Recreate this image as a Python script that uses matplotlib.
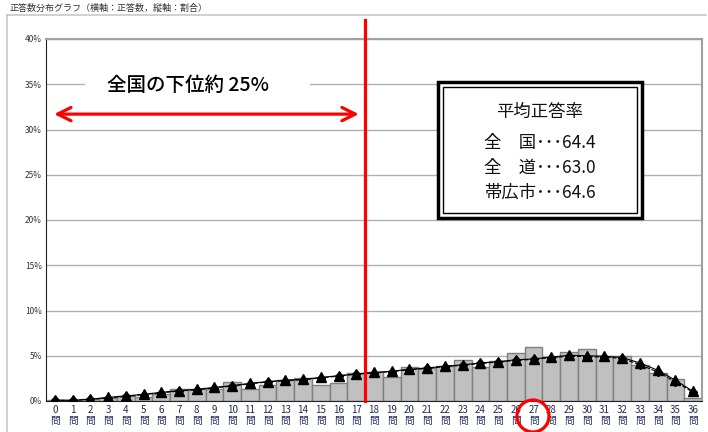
import matplotlib.pyplot as plt
from matplotlib.patches import Ellipse, Rectangle
from matplotlib.lines import Line2D

plt.rcParams['font.family'] = ['Noto Sans CJK JP', 'DejaVu Sans']

# 正答数 0〜36問
questions = list(range(37))
x_labels = [f'{q}\n問' for q in questions]

# 帯広市（棒）
obihiro = [0.1, 0.07, 0.2, 0.35, 0.5, 0.4, 0.75, 1.3, 1.3, 1.3,
           2.05, 1.3, 1.75, 2.3, 2.5, 1.75, 1.95, 3.05, 3.15, 2.6,
           3.8, 3.7, 3.85, 4.5, 3.8, 4.45, 5.25, 6.0, 4.9, 5.4,
           5.75, 5.0, 5.0, 3.95, 3.05, 2.4, 0.35]

# 全国（▲）
zenkoku = [0.1, 0.07, 0.2, 0.4, 0.55, 0.75, 0.95, 1.15, 1.3, 1.5,
           1.7, 1.95, 2.15, 2.3, 2.4, 2.6, 2.8, 3.0, 3.15, 3.3,
           3.5, 3.65, 3.85, 4.0, 4.2, 4.35, 4.55, 4.65, 4.85, 5.05,
           5.0, 4.95, 4.8, 4.2, 3.4, 2.3, 1.05]

# 全道（◆, 破線）
zendo = [0.08, 0.06, 0.18, 0.35, 0.5, 0.7, 0.9, 1.1, 1.25, 1.45,
         1.65, 1.9, 2.1, 2.25, 2.35, 2.55, 2.75, 2.95, 3.1, 3.25,
         3.45, 3.6, 3.8, 3.95, 4.15, 4.3, 4.5, 4.6, 4.8, 4.95,
         4.9, 4.85, 4.7, 4.0, 3.2, 2.15, 0.95]

fig = plt.figure(figsize=(7.08, 4.32), dpi=100)
ax = fig.add_axes([46 / 708, 1 - 401 / 432, 656 / 708, 362 / 432])

ax.bar(questions, obihiro, width=1.0, color='#c0c0c0', edgecolor='#7f7f7f',
       linewidth=1, zorder=2)
ax.plot(questions, zendo, color='black', linestyle='--', linewidth=0.8,
        marker='D', markersize=4.5, zorder=3)
ax.plot(questions, zenkoku, color='black', linewidth=0.8,
        marker='^', markersize=7.5, zorder=4)

ax.set_xlim(-0.5, 36.5)
ax.set_ylim(0, 40)
ax.set_yticks(range(0, 41, 5))
ax.set_yticklabels([f'{v}%' for v in range(0, 41, 5)], fontsize=6, color='#333333')
ax.set_xticks(questions)
ax.set_xticklabels(x_labels, fontsize=7, color='#1f2a5a', linespacing=1.05)
ax.tick_params(length=0, pad=3)
ax.grid(axis='y', color='#b0b0b0', linewidth=1, zorder=0)
ax.set_axisbelow(True)
for s in ['top', 'right']:
    ax.spines[s].set_color('#a0a0a0')
    ax.spines[s].set_linewidth(1.5)
ax.spines['left'].set_color('#222222')
ax.spines['bottom'].set_color('#222222')

# 下位25%の境界線
ax.plot([17.5, 17.5], [0, 42.1], color='red', linewidth=2.3, clip_on=False, zorder=5)
ax.annotate('', xy=(-0.2, 31.7), xytext=(17.3, 31.7),
            arrowprops=dict(arrowstyle='<->', color='red', lw=2.3,
                            mutation_scale=24), zorder=5)
ax.add_patch(Rectangle((1.7, 33.4), 12.7, 3.2, facecolor='white', edgecolor='none',
                       zorder=4))
ax.text(7.5, 34.9, '全国の下位約 25%', fontsize=14, ha='center', va='center',
        fontweight='medium', zorder=5)

# 平均正答率ボックス
box = [438 / 708, 1 - 218 / 432, 204 / 708, 136 / 432]
fig.patches.append(Rectangle((box[0], box[1]), box[2], box[3], transform=fig.transFigure,
                             facecolor='white', edgecolor='black', linewidth=2.5, zorder=6))
fig.patches.append(Rectangle((box[0] + 5 / 708, box[1] + 5 / 432), box[2] - 10 / 708,
                             box[3] - 10 / 432, transform=fig.transFigure,
                             facecolor='none', edgecolor='black', linewidth=1, zorder=7))
box_lines = ['平均正答率', '全\u3000国･･･64.4', '全\u3000道･･･63.0', '帯広市･･･64.6']
box_y = [112, 143, 168, 193]
for t, yy in zip(box_lines, box_y):
    fig.text(540 / 708, 1 - yy / 432, t, fontsize=12.5, ha='center', va='center',
             color='#111111', zorder=8)

# タイトル・外枠
fig.text(9 / 708, 1 - 8 / 432, '正答数分布グラフ（横軸：正答数，縦軸：割合）',
         fontsize=6.5, color='#333333', va='center')
fig.add_artist(Line2D([7 / 708, 706 / 708], [1 - 15 / 432, 1 - 15 / 432],
                      color='#c8c8c8', linewidth=1.2))
fig.add_artist(Line2D([7 / 708, 7 / 708], [0, 1 - 15 / 432],
                      color='#c8c8c8', linewidth=1.2))

# 27問の赤丸
fig.add_artist(Ellipse((533 / 708, 1 - 416 / 432), 32 / 708, 32 / 432,
                       facecolor='none', edgecolor='red', linewidth=2.3))

fig.savefig('out.png', dpi=100)
